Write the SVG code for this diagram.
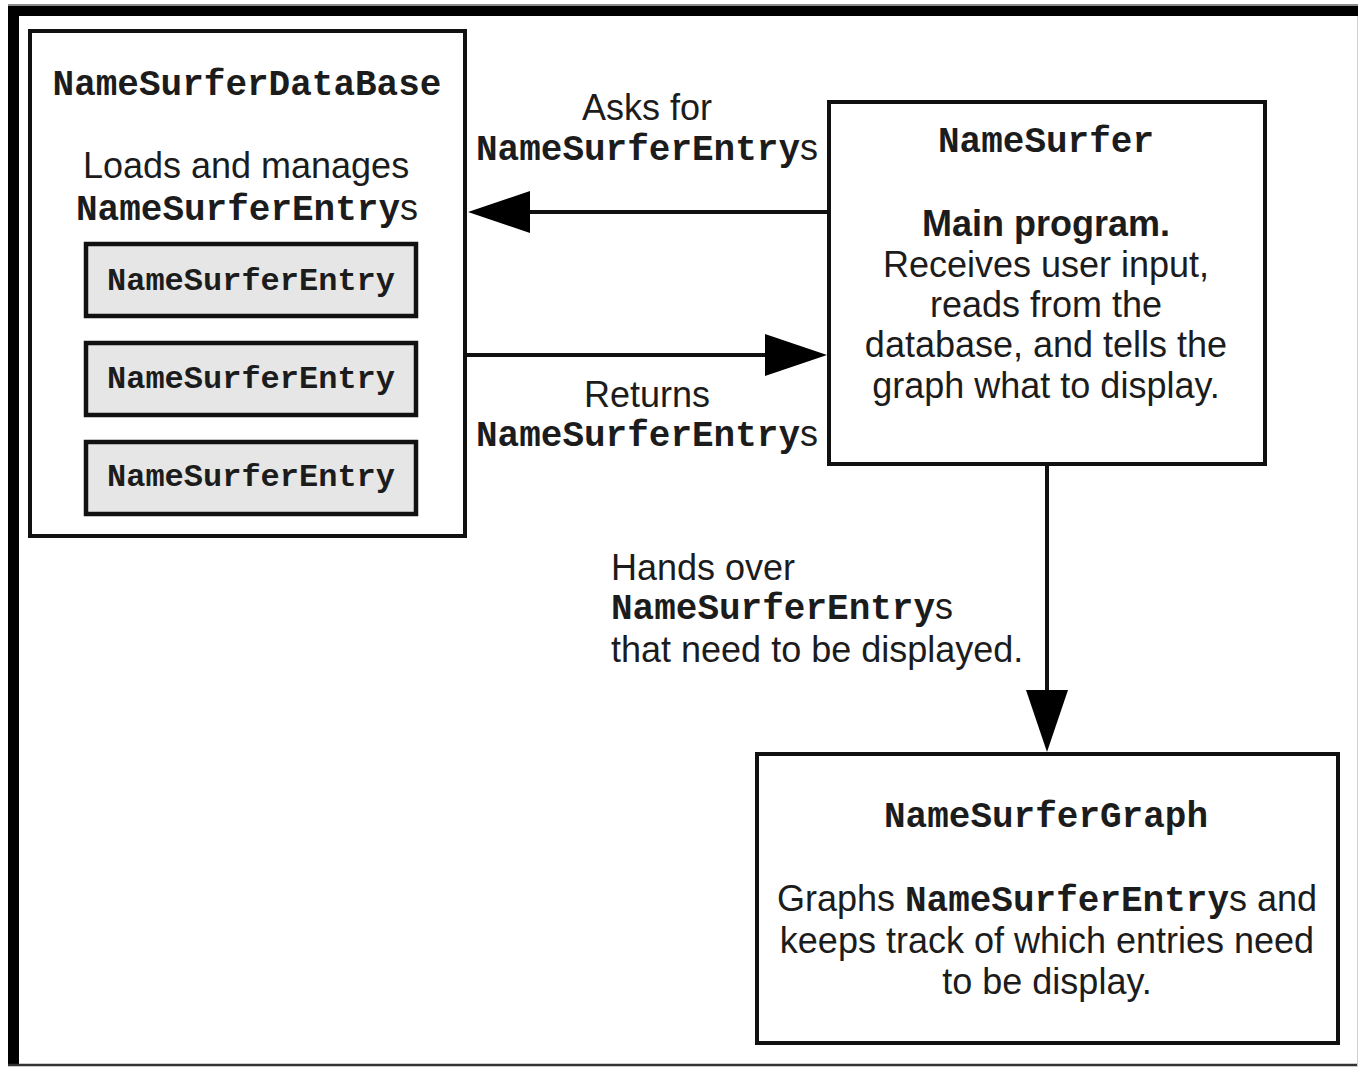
<svg xmlns="http://www.w3.org/2000/svg" width="1358" height="1068" viewBox="0 0 1358 1068">
  <style>
    .box { fill: #ffffff; stroke: #111111; stroke-width: 4; }
    .entry { fill: #e6e6e6; stroke: #111111; stroke-width: 4.5; }
    .mono { font-family: "Liberation Mono", "Courier New", monospace; font-weight: bold; font-size: 36px; fill: #1c1c1c; }
    .sans { font-family: "Liberation Sans", Arial, sans-serif; font-weight: normal; font-size: 36px; fill: #1c1c1c; }
    .sansb { font-family: "Liberation Sans", Arial, sans-serif; font-weight: bold; font-size: 36px; fill: #1c1c1c; }
    .small { font-size: 32px; }
    .mid { text-anchor: middle; }
    .wire { fill: none; stroke: #111111; stroke-width: 4; }
  </style>
  <defs>
    <marker id="head" markerUnits="userSpaceOnUse" markerWidth="63" markerHeight="42" refX="0" refY="21" orient="auto">
      <path d="M0,0 L62,21 L0,42 Z" fill="#000000"/>
    </marker>
  </defs>

  <!-- page background and frame -->
  <rect x="0" y="0" width="1358" height="1068" fill="#ffffff"/>
  <g id="frame">
    <line x1="8" y1="5" x2="1358" y2="5" stroke="#8a8a8a" stroke-width="2"/>
    <line x1="8" y1="11" x2="1358" y2="11" stroke="#000000" stroke-width="10"/>
    <line x1="13.5" y1="6" x2="13.5" y2="1066" stroke="#000000" stroke-width="11"/>
    <line x1="8" y1="1065" x2="1358" y2="1065" stroke="#333333" stroke-width="2.5"/>
    <line x1="1357.5" y1="16" x2="1357.5" y2="1066" stroke="#d0d0d0" stroke-width="1"/>
  </g>

  <!-- database node with its three entries -->
  <g id="namesurfer-database">
    <rect class="box" x="30" y="31" width="435" height="505"/>
    <text class="mono mid" x="247" y="95">NameSurferDataBase</text>
    <text class="sans mid" x="246" y="178">Loads and manages</text>
    <text class="mono mid" x="247" y="220">NameSurferEntry<tspan class="sans">s</tspan></text>
  </g>
  <g id="entry-1">
    <rect class="entry" x="86" y="244" width="330" height="72"/>
    <text class="mono small mid" x="251" y="290">NameSurferEntry</text>
  </g>
  <g id="entry-2">
    <rect class="entry" x="86" y="343" width="330" height="72"/>
    <text class="mono small mid" x="251" y="388">NameSurferEntry</text>
  </g>
  <g id="entry-3">
    <rect class="entry" x="86" y="442" width="330" height="72"/>
    <text class="mono small mid" x="251" y="486">NameSurferEntry</text>
  </g>

  <!-- main program node -->
  <g id="namesurfer">
    <rect class="box" x="829" y="102" width="436" height="362"/>
    <text class="mono mid" x="1046" y="152">NameSurfer</text>
    <text class="sansb mid" x="1046" y="236">Main program.</text>
    <text class="sans mid" x="1046" y="277">Receives user input,</text>
    <text class="sans mid" x="1046" y="317">reads from the</text>
    <text class="sans mid" x="1046" y="357">database, and tells the</text>
    <text class="sans mid" x="1046" y="398">graph what to display.</text>
  </g>

  <!-- graph node -->
  <g id="namesurfer-graph">
    <rect class="box" x="757" y="754" width="581" height="289"/>
    <text class="mono mid" x="1046" y="827">NameSurferGraph</text>
    <text class="sans mid" x="1047" y="911">Graphs <tspan class="mono">NameSurferEntry</tspan>s and</text>
    <text class="sans mid" x="1047" y="953">keeps track of which entries need</text>
    <text class="sans mid" x="1047" y="994">to be display.</text>
  </g>

  <!-- connectors and their labels -->
  <g id="connectors">
    <line class="wire" x1="829" y1="212" x2="530" y2="212" marker-end="url(#head)"/>
    <line class="wire" x1="465" y1="355" x2="765" y2="355" marker-end="url(#head)"/>
    <line class="wire" x1="1047" y1="464" x2="1047" y2="690" marker-end="url(#head)"/>

    <text class="sans mid" x="647" y="120">Asks for</text>
    <text class="mono mid" x="647" y="160">NameSurferEntry<tspan class="sans">s</tspan></text>
    <text class="sans mid" x="647" y="407">Returns</text>
    <text class="mono mid" x="647" y="446">NameSurferEntry<tspan class="sans">s</tspan></text>

    <text class="sans" x="611" y="580">Hands over</text>
    <text class="mono" x="611" y="619">NameSurferEntry<tspan class="sans">s</tspan></text>
    <text class="sans" x="611" y="662">that need to be displayed.</text>
  </g>
</svg>
